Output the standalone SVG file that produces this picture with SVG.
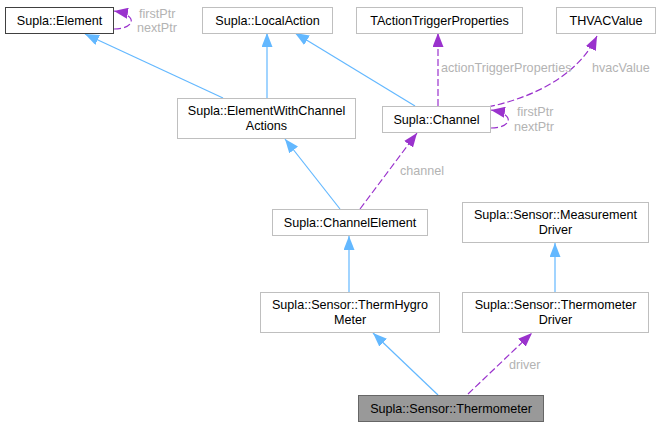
<svg xmlns="http://www.w3.org/2000/svg" width="661" height="427" viewBox="0 0 661 427">
<style>
text{font-family:"Liberation Sans",Arial,sans-serif;font-size:12.6px}
.n rect{fill:#ffffff;stroke:#bfbfbf;stroke-width:1}
.n text{fill:#000000;text-anchor:middle}
.inh{fill:none;stroke:#63b8ff;stroke-width:1.2}
.use{fill:none;stroke:#9a32cd;stroke-width:1.2;stroke-dasharray:7,3}
.lbl{fill:#b3b3b3;text-anchor:start}
</style>
<defs>
<marker id="ab" markerUnits="userSpaceOnUse" markerWidth="14" markerHeight="11" refX="14" refY="5.5" orient="auto" viewBox="0 0 14 11">
<path d="M0,0 L14,5.5 L0,11 z" fill="#63b8ff" stroke="none"/>
</marker>
<marker id="ap" markerUnits="userSpaceOnUse" markerWidth="14" markerHeight="11" refX="14" refY="5.5" orient="auto" viewBox="0 0 14 11">
<path d="M0,0 L14,5.5 L0,11 z" fill="#9a32cd" stroke="none"/>
</marker>
</defs>
<g id="edges">
<path class="inh" d="M223,98 L85,34" marker-end="url(#ab)"/>
<path class="inh" d="M267,98 L267,33" marker-end="url(#ab)"/>
<path class="inh" d="M415,106 L295,33" marker-end="url(#ab)"/>
<path class="use" d="M438,106 L438,33" marker-end="url(#ap)"/>
<path class="use" d="M488,107 C535,97 578,75 597,36" marker-end="url(#ap)"/>
<path class="use" d="M491,128 C512,128 516,114 491,110" marker-end="url(#ap)"/>
<path class="use" d="M114,29 C135,29 139,15 114,11" marker-end="url(#ap)"/>
<path class="inh" d="M340,209 L285,139" marker-end="url(#ab)"/>
<path class="use" d="M360,209 L417,133" marker-end="url(#ap)"/>
<path class="inh" d="M349,292 L349,236" marker-end="url(#ab)"/>
<path class="inh" d="M555,292 L555,243" marker-end="url(#ab)"/>
<path class="inh" d="M438,395 L373,333" marker-end="url(#ab)"/>
<path class="use" d="M468,394 L532,333" marker-end="url(#ap)"/>
<text class="lbl" x="139" y="18">firstPtr</text>
<text class="lbl" x="137" y="32">nextPtr</text>
<text class="lbl" x="441" y="72">actionTriggerProperties</text>
<text class="lbl" x="592" y="72">hvacValue</text>
<text class="lbl" x="517" y="116">firstPtr</text>
<text class="lbl" x="514" y="131">nextPtr</text>
<text class="lbl" x="400" y="175">channel</text>
<text class="lbl" x="509" y="369">driver</text>
</g>
<g id="node-element" class="n"><rect x="5.5" y="7.5" width="108" height="26" style="stroke:#404040"/><text x="59.5" y="25">Supla::Element</text></g>
<g id="node-localaction" class="n"><rect x="202.5" y="7.5" width="130" height="26"/><text x="267.5" y="25">Supla::LocalAction</text></g>
<g id="node-tactiontrigger" class="n"><rect x="356.5" y="7.5" width="166" height="26"/><text x="439.5" y="25">TActionTriggerProperties</text></g>
<g id="node-thvacvalue" class="n"><rect x="556.5" y="7.5" width="99" height="26"/><text x="606" y="25">THVACValue</text></g>
<g id="node-ewca" class="n"><rect x="177.5" y="98.5" width="178" height="40"/><text x="266.5" y="115">Supla::ElementWithChannel</text><text x="266.5" y="130">Actions</text></g>
<g id="node-channel" class="n"><rect x="382.5" y="106.5" width="108" height="26"/><text x="436.5" y="124">Supla::Channel</text></g>
<g id="node-channelelement" class="n"><rect x="272.5" y="209.5" width="155" height="26"/><text x="350" y="227">Supla::ChannelElement</text></g>
<g id="node-measurementdriver" class="n"><rect x="462.5" y="202.5" width="186" height="40"/><text x="555.5" y="219">Supla::Sensor::Measurement</text><text x="555.5" y="234">Driver</text></g>
<g id="node-thermhygrometer" class="n"><rect x="260.5" y="292.5" width="179" height="40"/><text x="350" y="309">Supla::Sensor::ThermHygro</text><text x="350" y="324">Meter</text></g>
<g id="node-thermometerdriver" class="n"><rect x="462.5" y="292.5" width="186" height="40"/><text x="555.5" y="309">Supla::Sensor::Thermometer</text><text x="555.5" y="324">Driver</text></g>
<g id="node-thermometer" class="n"><rect x="358.5" y="395.5" width="185" height="26" style="fill:#999999;stroke:#666666"/><text x="451" y="413">Supla::Sensor::Thermometer</text></g>
</svg>
